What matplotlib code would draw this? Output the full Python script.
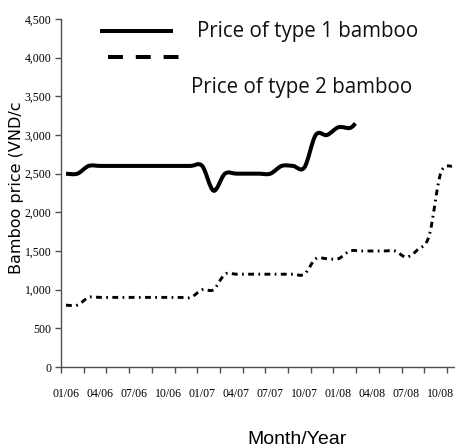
import matplotlib
matplotlib.use("Agg")
import matplotlib.pyplot as plt
from matplotlib.path import Path
from matplotlib.patches import PathPatch
from matplotlib.lines import Line2D

# months counted from 01/06 (0 = Jan 2006)
months1 = [0, 1, 2, 3, 4, 5, 6, 7, 8, 9, 10, 11, 12, 13, 14, 15, 16, 17, 18,
           19, 20, 21, 22, 23, 24, 25, 25.5]
price1 = [2500, 2500, 2600, 2600, 2600, 2600, 2600, 2600, 2600, 2600, 2600,
          2600, 2600, 2280, 2500, 2500, 2500, 2500, 2500, 2600, 2600, 2580,
          3000, 3000, 3100, 3090, 3150]

months2 = [0, 1, 2, 3, 4, 5, 6, 7, 8, 9, 10, 11, 12, 13, 14, 15, 16, 17, 18,
           19, 20, 21, 22, 23, 24, 25, 26, 27, 28, 29, 30, 31, 32, 33, 34]
price2 = [800, 800, 900, 900, 900, 900, 900, 900, 900, 900, 900, 900, 1000,
          1000, 1200, 1200, 1200, 1200, 1200, 1200, 1200, 1200, 1400, 1400,
          1400, 1500, 1500, 1500, 1500, 1500, 1420, 1520, 1700, 2500, 2600]

label_months = [0, 3, 6, 9, 12, 15, 18, 21, 24, 27, 30, 33]
month_labels = ["01/06", "04/06", "07/06", "10/06", "01/07", "04/07", "07/07",
                "10/07", "01/08", "04/08", "07/08", "10/08"]
yticks = [0, 500, 1000, 1500, 2000, 2500, 3000, 3500, 4000, 4500]


def smooth(xs, ys):
    # excel style smoothed line: catmull-rom segments as cubic beziers
    pts = list(zip(xs, ys))
    verts = [pts[0]]
    codes = [Path.MOVETO]
    for i in range(len(pts) - 1):
        p0 = pts[i - 1] if i > 0 else pts[i]
        p1 = pts[i]
        p2 = pts[i + 1]
        p3 = pts[i + 2] if i + 2 < len(pts) else pts[i + 1]
        c1 = (p1[0] + (p2[0] - p0[0]) / 6, p1[1] + (p2[1] - p0[1]) / 6)
        c2 = (p2[0] - (p3[0] - p1[0]) / 6, p2[1] - (p3[1] - p1[1]) / 6)
        verts += [c1, c2, p2]
        codes += [Path.CURVE4] * 3
    return Path(verts, codes)


fig = plt.figure(figsize=(4.56, 4.48), dpi=100)
ax = fig.add_axes([61 / 456, 81 / 448, 395 / 456, 348 / 448])

ax.add_patch(PathPatch(smooth(months1, price1), fill=False, color="black",
                       lw=2.9, capstyle="butt"))
ax.add_patch(PathPatch(smooth(months2, price2), fill=False, color="black",
                       lw=2.1, linestyle=(0, (2.0, 1.5, 0.6, 1.5)),
                       capstyle="butt"))

ax.set_xlim(-0.44, 34.36)
ax.set_ylim(0, 4500)

for s in ["top", "right"]:
    ax.spines[s].set_visible(False)
for s in ["left", "bottom"]:
    ax.spines[s].set_color("#505050")
    ax.spines[s].set_linewidth(1.0)

ax.set_yticks(yticks)
ax.set_yticklabels([f"{v:,}" for v in yticks], family="Liberation Serif",
                   fontsize=8.5)
ax.tick_params(axis="y", direction="out", length=4, width=1,
               color="#505050", pad=3)

# tick marks every two months, labels every three months
ax.set_xticks([-0.44 + 2 * k for k in range(18)])
ax.set_xticklabels([])
ax.tick_params(axis="x", which="major", direction="out", length=4.5,
               width=1, color="#505050")
ax.set_xticks(label_months, minor=True)
ax.set_xticklabels(month_labels, minor=True, family="Liberation Serif",
                   fontsize=8.5)
ax.tick_params(axis="x", which="minor", length=0, pad=15)

# legend drawn by hand, as in the original
ax.add_line(Line2D([0.099, 0.284], [0.9655, 0.9655], transform=ax.transAxes,
                   color="black", lw=2.9, solid_capstyle="butt"))
ax.add_line(Line2D([0.119, 0.304], [0.891, 0.891], transform=ax.transAxes,
                   color="black", lw=2.9, dash_capstyle="butt",
                   linestyle=(0, (3.7, 3.2))))
ax.text(0.344, 0.9655, "Price of type 1 bamboo", transform=ax.transAxes,
        family="Open Sans", fontsize=14.8, va="center", ha="left",
        color="#111111")
ax.text(0.329, 0.802, "Price of type 2 bamboo", transform=ax.transAxes,
        family="Open Sans", fontsize=14.8, va="center", ha="left",
        color="#111111")

fig.text(17 / 456, 1 - 188 / 448, "Bamboo price (VND/c", rotation=90,
         family="DejaVu Sans", fontsize=11.5, ha="center", va="center")
fig.text(297 / 456, 4 / 448, "Month/Year", family="Liberation Sans",
         fontsize=14, ha="center", va="baseline")

fig.savefig("out.png", dpi=100)
